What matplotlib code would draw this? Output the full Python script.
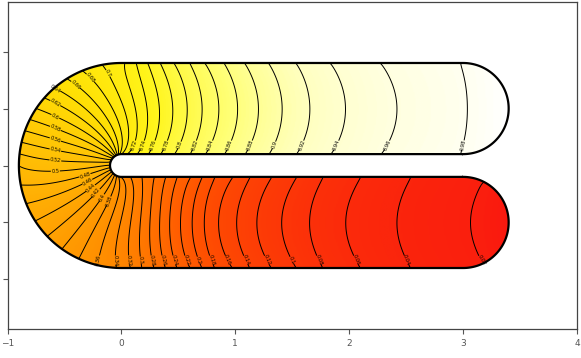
import numpy as np
import matplotlib
matplotlib.use("Agg")
import matplotlib.pyplot as plt
from matplotlib.path import Path
from matplotlib.patches import PathPatch
from matplotlib.colors import LinearSegmentedColormap

# hairpin (U) domain, sizes
arm_len = 3.0
r_out = 0.9
r_in = 0.1
r_cap = (r_out - r_in) / 2
y_mid = (r_out + r_in) / 2

levels = np.round(np.arange(0.02, 0.99, 0.02), 2)

# value on the walls of the upper arm (where the contours meet them)
top_x = [0.0, 0.03, 0.13, 0.23, 0.34, 0.46, 0.60, 0.73, 0.90, 1.08, 1.29, 1.53, 1.83, 2.27, 2.98, 3.4]
top_v = [0.715, 0.72, 0.74, 0.76, 0.78, 0.80, 0.82, 0.84, 0.86, 0.88, 0.90, 0.92, 0.94, 0.96, 0.98, 1.0]
# same for the lower arm
bot_x = [0.0, 0.08, 0.18, 0.29, 0.39, 0.49, 0.61, 0.71, 0.82, 0.98, 1.13, 1.32, 1.54, 1.77, 2.10, 2.54, 3.19, 3.4]
bot_v = [0.335, 0.32, 0.30, 0.28, 0.26, 0.24, 0.22, 0.20, 0.18, 0.16, 0.14, 0.12, 0.10, 0.08, 0.06, 0.04, 0.02, 0.0]

# how far the middle of each iso-line runs ahead of its ends in the arms
bulge = 0.12
# upper half of the fan at the slot tip opens up towards the top
tip_power = 1.6

colors = [(0.0, (0.98, 0.1, 0.06)), (0.2, (1.0, 0.33, 0.0)), (0.35, (1.0, 0.55, 0.0)),
          (0.5, (1.0, 0.73, 0.02)), (0.65, (1.0, 0.88, 0.02)), (0.75, (1.0, 0.96, 0.1)),
          (0.85, (1.0, 1.0, 0.45)), (0.92, (1.0, 1.0, 0.75)), (1.0, (1.0, 1.0, 1.0))]
cmap = LinearSegmentedColormap.from_list("redyellowwhite", colors)


def inside_u(X, Y):
    R = np.hypot(X, Y)
    ay = np.abs(Y)
    bend = (X < 0) & (R <= r_out) & (R >= r_in)
    arms = (X >= 0) & (X <= arm_len) & (ay >= r_in) & (ay <= r_out)
    caps = (X > arm_len) & (np.hypot(X - arm_len, ay - y_mid) <= r_cap)
    return bend | arms | caps


def wall_value(X, Y):
    ang = np.arctan2(Y, -X)
    lin = ang / (np.pi / 2)
    # slot tip: even in angle below, opening up above
    tip = np.where(lin >= 0, np.abs(lin) ** tip_power, lin)
    # outer bend: between even height and even angle above, even in angle below
    outer = np.where(ang >= 0, 0.5 * (np.sin(ang) + lin), lin)
    a = np.where(np.hypot(X, Y) < (r_in + r_out) / 2, tip, outer)
    bend = np.where(a >= 0, 0.5 + a * (top_v[0] - 0.5), 0.5 + a * (0.5 - bot_v[0]))
    upper = np.interp(X, top_x, top_v)
    lower = np.interp(X, bot_x, bot_v)
    return np.where(X < 0, bend, np.where(Y >= 0, upper, lower))


def outline():
    t = np.linspace(0, 1, 150)
    n = 60
    a_bend = np.pi / 2 + np.pi * t
    a_cap = -np.pi / 2 + np.pi * t
    a_tip = -np.pi / 2 - np.pi * t
    pts = [
        np.c_[np.linspace(arm_len, 0, n), np.full(n, r_out)],
        np.c_[r_out * np.cos(a_bend), r_out * np.sin(a_bend)],
        np.c_[np.linspace(0, arm_len, n), np.full(n, -r_out)],
        np.c_[arm_len + r_cap * np.cos(a_cap), -y_mid + r_cap * np.sin(a_cap)],
        np.c_[np.linspace(arm_len, 0, n), np.full(n, -r_in)],
        np.c_[r_in * np.cos(a_tip), r_in * np.sin(a_tip)],
        np.c_[np.linspace(0, arm_len, n), np.full(n, r_in)],
        np.c_[arm_len + r_cap * np.cos(a_cap), y_mid + r_cap * np.sin(a_cap)],
    ]
    v = np.vstack(pts)
    v = np.vstack([v, v[:1]])
    codes = np.full(len(v), Path.LINETO)
    codes[0] = Path.MOVETO
    codes[-1] = Path.CLOSEPOLY
    return Path(v, codes)


def smooth(v, width):
    k = np.exp(-0.5 * (np.arange(-3 * width, 3 * width + 1) / width) ** 2)
    k /= k.sum()
    p = np.pad(v, 3 * width, mode="edge")
    return np.convolve(p, k, mode="valid")


# solve  lap(u) = c  with the wall values (red-black SOR)
h = 0.01
xs = np.linspace(-1.0, 3.5, 451)
ys = np.linspace(-1.0, 1.0, 201)
X, Y = np.meshgrid(xs, ys)
inside = inside_u(X, Y)
near = np.zeros_like(inside)
near[1:-1, 1:-1] = inside[:-2, 1:-1] | inside[2:, 1:-1] | inside[1:-1, :-2] | inside[1:-1, 2:]
ghost = near & ~inside

# source that turns the straight iso-lines of the arms into arcs
half = (r_out - r_in) / 2
src_rows = []
for tx, tv in ((top_x, top_v), (bot_x, bot_v)):
    g = smooth(np.interp(xs, tx, tv), 8)
    d1 = np.gradient(g, h)
    d2 = np.gradient(d1, h)
    src_rows.append(2 * bulge / half ** 2 * np.abs(d1) + d2)
ramp = np.clip(xs / 0.5, 0, 1)
ramp = ramp * ramp * (3 - 2 * ramp)
src = np.where(Y >= 0, src_rows[0] * ramp, src_rows[1] * ramp) * h * h

U = wall_value(X, Y)
I, J = np.indices(U.shape)
red = inside & ((I + J) % 2 == 0)
black = inside & ((I + J) % 2 == 1)
omega = 1.9
nb = np.zeros_like(U)
for it in range(1400):
    for m in (red, black):
        nb[1:-1, 1:-1] = U[:-2, 1:-1] + U[2:, 1:-1] + U[1:-1, :-2] + U[1:-1, 2:]
        U = np.where(m, U + omega * ((nb - src) / 4 - U), U)

Z = np.where(inside | ghost, U, np.nan)

fig = plt.figure(figsize=(5.81, 3.58), dpi=100)
ax = fig.add_axes([7.5 / 581, 29 / 358, 569.5 / 581, 327 / 358])

upath = outline()
clip = PathPatch(upath, transform=ax.transData, facecolor="none", edgecolor="none")

im = ax.imshow(np.ma.masked_invalid(Z), extent=(xs[0] - h / 2, xs[-1] + h / 2, ys[0] - h / 2, ys[-1] + h / 2),
               origin="lower", cmap=cmap, vmin=0, vmax=1, interpolation="bilinear", zorder=1)
im.set_clip_path(clip)

cs = ax.contour(X, Y, Z, levels=levels, colors="k", linewidths=0.7, zorder=2)
cs.set_clip_path(clip)

# labels sit near one end of each line, like in the original
spots = []
for lv, segs in zip(cs.levels, cs.allsegs):
    if not segs:
        continue
    pts = np.vstack(segs)
    r = np.hypot(pts[:, 0], pts[:, 1])
    if lv >= 0.71:
        score = np.abs(pts[:, 1] - 0.18) + 5 * (pts[:, 0] < 0)
    elif lv >= 0.5:
        score = np.minimum(np.abs(r - 0.82), np.abs(pts[:, 0] + 0.58))
    elif lv >= 0.37:
        score = np.abs(r - 0.33)
    else:
        score = np.abs(pts[:, 1] + 0.83)
    spots.append(tuple(pts[np.argmin(score)]))
ax.clabel(cs, manual=spots, fmt="%g", fontsize=3.6, inline=True, inline_spacing=1)

ax.add_patch(PathPatch(upath, facecolor="none", edgecolor="black", linewidth=1.6, zorder=3))

ax.set_xlim(-1, 4)
ax.set_ylim(-1.435, 1.435)
ax.set_xticks([-1, 0, 1, 2, 3, 4])
ax.set_yticks([-1, -0.5, 0, 0.5, 1])
ax.tick_params(direction="out", length=3.5, width=0.8, colors="#555555", labelsize=6.5,
               labelleft=False, labelcolor="#555555")
for s in ax.spines.values():
    s.set_color("#444444")
    s.set_linewidth(0.9)

fig.savefig("out.png", dpi=100)
